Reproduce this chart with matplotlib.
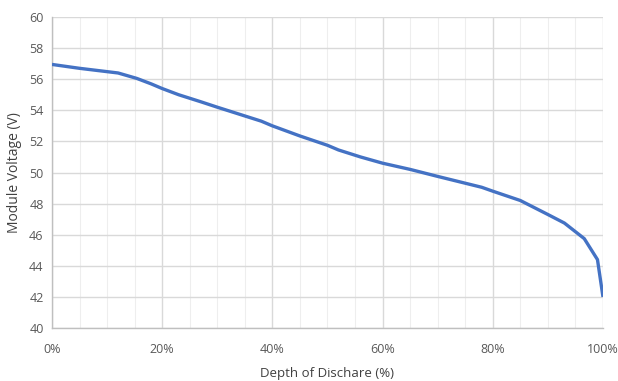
"""plot.py - module voltage vs depth of discharge."""

import matplotlib
matplotlib.use("Agg")
from matplotlib import pyplot as plt
from matplotlib.ticker import MultipleLocator, PercentFormatter

# Data
# ---------------------------
dod = [0, 5, 12, 15.4, 18, 20, 23, 27, 30, 34, 38, 40, 45, 50, 52, 56, 60, 65, 70,
       74, 78, 80, 85, 90, 93, 96.6, 99, 100]
voltage = [56.95, 56.7, 56.4, 56.05, 55.7, 55.4, 55.0, 54.55, 54.2, 53.75, 53.3, 53.0,
           52.35, 51.75, 51.45, 51.0, 50.6, 50.2, 49.75, 49.4, 49.05, 48.8, 48.2,
           47.3, 46.75, 45.75, 44.4, 42.0]

x_label = "Depth of Dischare (%)"
y_label = "Module Voltage (V)"

plt.rcParams["font.family"] = ["Open Sans", "DejaVu Sans"]

fig = plt.figure(figsize=(6.18, 3.81), dpi=100)
ax = fig.add_axes([0.0841, 0.139, 0.8916, 0.8164])

ax.plot(dod, voltage, color="#4472C4", lw=2.4, solid_capstyle="butt",
        solid_joinstyle="round", zorder=3)

ax.set_xlim(0, 100)
ax.set_ylim(40, 60)
ax.xaxis.set_major_locator(MultipleLocator(20))
ax.xaxis.set_minor_locator(MultipleLocator(5))
ax.yaxis.set_major_locator(MultipleLocator(2))
ax.xaxis.set_major_formatter(PercentFormatter(decimals=0))

ax.grid(which="major", color="#d9d9d9", lw=1.0)
ax.grid(which="minor", axis="x", color="#eeeeee", lw=0.8)
ax.set_axisbelow(True)

for side in ("top", "right"):
    ax.spines[side].set_visible(False)
for side in ("left", "bottom"):
    ax.spines[side].set_color("#bfbfbf")
    ax.spines[side].set_linewidth(1.0)

ax.tick_params(which="both", length=0, colors="#595959", labelsize=9)
ax.tick_params(axis="x", pad=11)
ax.tick_params(axis="y", pad=6)

ax.set_xlabel(x_label, fontsize=9.5, color="#404040", labelpad=8)
ax.set_ylabel(y_label, fontsize=10, color="#404040", labelpad=5)

fig.savefig("out.png", dpi=100)
